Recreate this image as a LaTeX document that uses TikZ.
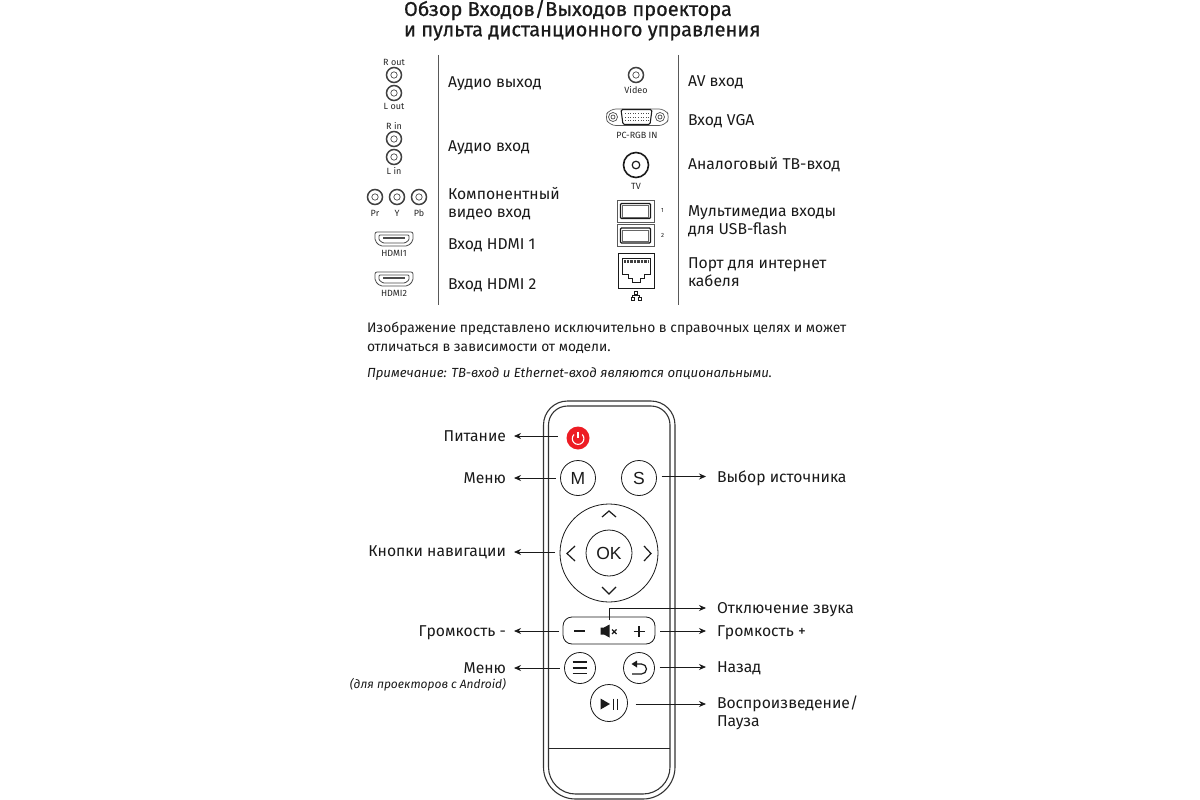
\documentclass[tikz,border=0pt]{standalone}
\usepackage{fontspec}
\setmainfont{Fira Sans}
\newfontfamily\titlefont[FakeBold=0.7]{Fira Sans}
\newfontfamily\btnfont{Liberation Sans}
\usetikzlibrary{arrows.meta}
\definecolor{ink}{HTML}{1A1A1A}
\definecolor{powerred}{HTML}{ED1C24}
\tikzset{
  x=1pt,y=-1pt,
  every node/.style={inner sep=0pt,outer sep=0pt,text=ink},
  lab/.style={anchor=west,align=left,font=\fontsize{15.7}{18}\selectfont},
  tiny/.style={font=\fontsize{9}{10}\selectfont,text=black!85},
  para/.style={anchor=west,font=\fontsize{13.8}{16}\selectfont},
  ttl/.style={anchor=west,font=\titlefont\fontsize{20}{22}\selectfont},
  rulev/.style={draw=black!65,line width=0.9pt},
  jackout/.style={draw=black!75,line width=1.5pt,circle,minimum size=15pt},
  btn/.style={draw=ink,line width=0.8pt,circle,fill=white,font=\btnfont\fontsize{17.5}{20}\selectfont},
  arr/.style={draw=ink,line width=0.8pt,-{Stealth[length=7pt,width=6pt]}},
  shellline/.style={draw=black!80,line width=1.1pt},
  icon/.style={draw=ink,line width=1.3pt},
  pics/jack/.style={code={
    \node[jackout] {};
    \draw[black!70,line width=0.7pt] (0,0) circle (3.2);
  }},
  pics/hdmi/.style={code={
    \draw[black!70,line width=0.8pt,rounded corners=2pt] (-19,-7)--(19,-7)--(19,2)--(14,7)--(-14,7)--(-19,2)--cycle;
    \draw[black!70,line width=0.8pt,rounded corners=1pt] (-15,-4)--(15,-4)--(15,1)--(11,4)--(-11,4)--(-15,1)--cycle;
    \draw[black!70,line width=1.2pt] (-11,-1)--(11,-1);
  }},
  pics/usb/.style={code={
    \draw[black!65,line width=0.7pt] (-18.5,-11) rectangle (18.5,11);
    \draw[ink,line width=1.2pt,rounded corners=1pt] (-15,-7.5) rectangle (15,7.5);
    \draw[black!60,line width=0.6pt] (-13,-5.5) rectangle (13,6);
  }},
}
\begin{document}
\begin{tikzpicture}
\useasboundingbox[fill=white] (0,0) rectangle (1200,800);
% title
\node[ttl] (t1) at (404,10) {Обзор Входов/Выходов проектора};
\node[ttl] (t2) at (404,33) {и пульта дистанционного управления};
% table rules
\draw[rulev] (438,55)--(438,305);
\draw[rulev] (678,55)--(678,305);
% left icons
\node[tiny] (rout) at (394,62) {R out};
\pic at (394,75) {jack};
\pic at (394,93) {jack};
\node[tiny] (lout) at (394,106) {L out};
\node[tiny] (rin) at (394,126) {R in};
\pic at (394,139) {jack};
\pic at (394,157) {jack};
\node[tiny] (lin) at (394,171) {L in};
\pic at (375,197) {jack};
\pic at (397,197) {jack};
\pic at (419,197) {jack};
\node[tiny] (pr) at (375,213) {Pr};
\node[tiny] (y) at (397,213) {Y};
\node[tiny] (pb) at (419,213) {Pb};
\pic at (394,239) {hdmi};
\node[tiny] (h1) at (394,253) {HDMI1};
\pic at (394,279) {hdmi};
\node[tiny] (h2) at (394,293) {HDMI2};
% left labels
\node[lab] (a1) at (448,84) {Аудио выход};
\node[lab] (a2) at (448,148) {Аудио вход};
\node[lab] (a3) at (448,203.5) {Компонентный\\видео вход};
\node[lab] (a4) at (448,245) {Вход HDMI 1};
\node[lab] (a5) at (448,285) {Вход HDMI 2};
% right icons
\pic at (636,75) {jack};
\node[tiny] (vid) at (636,90) {Video};
\draw[black!65,line width=0.7pt,rounded corners=6pt] (604.5,117)--(610,109)--(665,109)--(670,117)--(665,125.5)--(610,125.5)--cycle;
\draw[black!70,line width=0.7pt] (613,117) circle (4.5) (613,117) circle (2);
\draw[black!70,line width=0.7pt] (660,117) circle (4.5) (660,117) circle (2);
\draw[ink,line width=1.1pt,rounded corners=1.5pt] (621,109.5)--(652,109.5)--(650,124.5)--(623,124.5)--cycle;
\foreach \yy in {113.5,117,120.5}{\draw[black!70,line width=1pt,dash pattern=on 1pt off 1.6pt] (625,\yy)--(649,\yy);}
\node[tiny] (pc) at (637,135) {PC-RGB IN};
\draw[ink,line width=1.6pt] (636,165) circle (12.5);
\draw[ink,line width=1.2pt] (636,165) circle (3.8);
\node[tiny] (tv) at (636,186) {TV};
\pic at (635.5,211) {usb};
\node[font=\fontsize{6}{7}\selectfont] (u1) at (662.5,210) {1};
\pic at (635.5,235.5) {usb};
\node[font=\fontsize{6}{7}\selectfont] (u2) at (662.5,235) {2};
\draw[ink,line width=0.9pt] (618,253) rectangle (654,288);
\draw[ink,line width=0.7pt] (622,258)--(650,258)--(650,274)--(644,274)--(644,278)--(640,278)--(640,282)--(632,282)--(632,278)--(628,278)--(628,274)--(622,274)--cycle;
\draw[black!75,line width=3pt,dash pattern=on 0.8pt off 0.6pt] (624,261)--(648,261);
\draw[ink,line width=0.6pt] (634.5,291) rectangle (637.5,294) (631,297) rectangle (634,300) (638,297) rectangle (641,300)
  (636,294)--(636,295.5) (632.5,297)--(632.5,295.5)--(639.5,295.5)--(639.5,297);
% right labels
\node[lab] (b1) at (688,82) {AV вход};
\node[lab] (b2) at (688,121) {Вход VGA};
\node[lab] (b3) at (688,165) {Аналоговый ТВ-вход};
\node[lab] (b4) at (688,221.5) {Мультимедиа входы\\для USB-flash};
\node[lab] (b5) at (688,272.5) {Порт для интернет\\кабеля};
% paragraph
\node[para] (p1) at (367,328.5) {Изображение представлено исключительно в справочных целях и может};
\node[para] (p2) at (367,349) {отличаться в зависимости от модели.};
\node[para,font=\itshape\fontsize{13.2}{16}\selectfont] (p3) at (367,373.5) {Примечание: ТВ-вход и Ethernet-вход являются опциональными.};
% remote shell
\draw[shellline] (543.5,425)  arc[start angle=180,end angle=270,radius=24] -- (651,401) arc[start angle=270,end angle=360,radius=24] -- (675,767) arc[start angle=0,end angle=90,radius=32] -- (575.5,799) arc[start angle=90,end angle=180,radius=32] -- cycle;
\draw[shellline] (548.5,425) arc[start angle=180,end angle=270,radius=19] -- (651,406) arc[start angle=270,end angle=360,radius=19] -- (670,767) arc[start angle=0,end angle=90,radius=27] -- (575.5,794) arc[start angle=90,end angle=180,radius=27] -- cycle;
\draw[draw=black!85,line width=0.8pt] (548.5,748)--(670,748);
% buttons
\node[circle,fill=powerred,minimum size=23pt] (pw) at (578,438) {};
\draw[white,line width=1.1pt] (578,431.5)--(578,438);
\draw[white,line width=1.1pt] (574,434.5) arc[start angle=225,end angle=-45,radius=5.8];
\node[btn,minimum size=35pt] (m) at (578,478) {M};
\node[btn,minimum size=35pt] (s) at (639,478) {S};
\node[btn,minimum size=98pt] (nav) at (609,553) {};
\node[btn,minimum size=46pt] (ok) at (609,553) {OK};
\begin{scope}[ink,line width=1.2pt]
\draw (602,517)--(609,511)--(616,517);
\draw (602,587)--(609,594)--(616,587);
\draw (575,546)--(567,553.5)--(575,561);
\draw (644,546)--(651,553.5)--(644,561);
\end{scope}
\node[draw=ink,line width=0.8pt,rounded corners=9pt,minimum width=92pt,minimum height=27pt,fill=white] (vol) at (609,630.5) {};
\draw[icon] (574,631)--(585,631);
\draw[icon] (633.5,631.5)--(644.5,631.5) (639,626)--(639,637);
\fill[ink] (600.5,627.5)--(604,627.5)--(609.5,624.5)--(609.5,637.5)--(604,634.5)--(600.5,634.5)--cycle;
\draw[ink,line width=1.2pt] (612,629.5)--(616.5,634) (616.5,629.5)--(612,634);
\node[btn,minimum size=31pt] (menu) at (580,668) {};
\draw[icon] (572.5,662)--(587,662) (572.5,668)--(587,668) (572.5,673.5)--(587,673.5);
\node[btn,minimum size=31pt] (back) at (639,668) {};
\draw[ink,line width=1.2pt] (634,664)--(641.5,664) arc[start angle=270,end angle=450,radius=5] -- (632,674);
\fill[ink] (631.5,664)--(637,660.5)--(637,667.5)--cycle;
\node[btn,minimum size=37pt] (play) at (609,703) {};
\fill[ink] (600.5,698.5)--(610,704)--(600.5,709.5)--cycle;
\draw[ink,line width=1.4pt] (613.5,698.5)--(613.5,709.5) (617.5,698.5)--(617.5,709.5);
% remote labels
\node[lab,anchor=east] (lp) at (506,436) {Питание};
\node[lab,anchor=east] (lm) at (506,478) {Меню};
\node[lab,anchor=east] (ln) at (506,552) {Кнопки навигации};
\node[lab,anchor=east] (lv) at (506,633) {Громкость -};
\node[lab,anchor=east] (la) at (506,668) {Меню};
\node[anchor=east,font=\itshape\fontsize{12}{14}\selectfont] (la2) at (506,685) {(для проекторов с Android)};
\node[lab] (rs) at (717,478.5) {Выбор источника};
\node[lab] (rm) at (717,610) {Отключение звука};
\node[lab] (rv) at (717,633) {Громкость +};
\node[lab] (rb) at (717,668) {Назад};
\node[lab] (rp) at (717,713) {Воспроизведение/\\Пауза};
\coordinate (mutepin) at (609,620);
% connectors
\draw[arr,shorten <=9pt,shorten >=8pt] (pw.west |- lp.east) -- (lp.east);
\draw[arr,shorten <=5pt,shorten >=8pt] (m.west) -- (lm.east);
\draw[arr,shorten <=5pt,shorten >=8pt] (nav.west |- ln.east) -- (ln.east);
\draw[arr,shorten <=4pt,shorten >=8pt] (vol.west |- 0,631) -- ([yshift=2pt]lv.east);
\draw[arr,shorten <=5pt,shorten >=8pt] (menu.west) -- (la.east);
\draw[arr,shorten <=5pt,shorten >=11pt] ([yshift=2pt]s.east |- rs.west) -- ([yshift=2pt]rs.west);
\draw[arr,shorten >=11pt] (mutepin) |- ([yshift=2pt]rm.west);
\draw[arr,shorten <=5pt,shorten >=11pt] ([yshift=2pt]vol.east |- rv.west) -- ([yshift=2pt]rv.west);
\draw[arr,shorten <=5pt,shorten >=11pt] ([yshift=1pt]back.east |- rb.west) -- ([yshift=1pt]rb.west);
\coordinate (pyy) at (rp.west |- 0,704);
\draw[arr,shorten <=8pt,shorten >=11pt] (play.east |- pyy) -- (pyy);
\end{tikzpicture}
\end{document}
